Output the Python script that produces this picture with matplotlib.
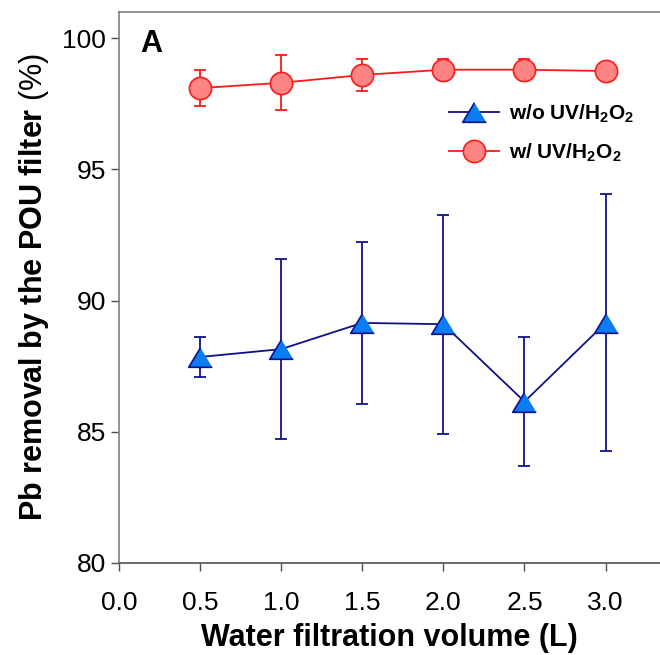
import matplotlib as mpl
mpl.use("Agg")
import matplotlib.pyplot as plt
import numpy as np

# --- Datos ---
volume = [0.5, 1.0, 1.5, 2.0, 2.5, 3.0]

wo_uv = [87.85, 88.15, 89.15, 89.1, 86.15, 89.15]
wo_uv_err = [0.76, 3.43, 3.1, 4.17, 2.46, 4.9]

w_uv = [98.1, 98.3, 98.6, 98.8, 98.8, 98.75]
w_uv_err = [0.7, 1.05, 0.6, 0.4, 0.4, 0.05]

mpl.rcParams.update({
    "font.family": "Liberation Sans",
    "mathtext.fontset": "custom",
    "mathtext.rm": "Liberation Sans",
    "mathtext.bf": "Liberation Sans:bold",
})

fig = plt.figure(figsize=(6.6, 6.55), dpi=100)
ax = fig.add_axes([0.180, 0.1405, 0.82, 0.8412])

navy = "#10108a"
red = "#ff1a1a"

# Barras de error (detrás de los marcadores)
ax.errorbar(volume, wo_uv, yerr=wo_uv_err, fmt="none", ecolor=navy,
            elinewidth=1.3, capsize=4, capthick=1.3, zorder=2)
ax.errorbar(volume, w_uv, yerr=w_uv_err, fmt="none", ecolor=red,
            elinewidth=1.3, capsize=4, capthick=1.3, zorder=2)

tri = [(0, 0.83), (-1, -0.83), (1, -0.83)]
ax.plot(volume, wo_uv, color=navy, linewidth=1.3, marker=tri, markersize=17,
        markerfacecolor="#0a7df5", markeredgecolor=navy, markeredgewidth=1.2,
        label=r"w/o UV/H$_\mathbf{2}$O$_\mathbf{2}$", zorder=3)
ax.plot(volume, w_uv, color=red, linewidth=1.3, marker="o", markersize=16,
        markerfacecolor="#ff8585", markeredgecolor=red, markeredgewidth=1.2,
        label=r"w/ UV/H$_\mathbf{2}$O$_\mathbf{2}$", zorder=3)

ax.set_xlim(0, 3.335)
ax.set_ylim(80, 101)
ax.set_xticks(np.arange(0, 3.01, 0.5))
ax.set_xticklabels([f"{v:.1f}" for v in np.arange(0, 3.01, 0.5)])
ax.set_yticks([80, 85, 90, 95, 100])

for s in ["left", "top", "bottom"]:
    ax.spines[s].set_color("#808080")
    ax.spines[s].set_linewidth(1.2)
ax.spines["bottom"].set_color("#505050")
ax.spines["right"].set_visible(False)

ax.tick_params(axis="both", direction="out", length=6, width=1,
               color="#505050", labelsize=19)
ax.tick_params(axis="x", pad=14)
ax.tick_params(axis="y", pad=3)

ax.set_xlabel("Water filtration volume (L)", fontsize=22, fontweight="bold", labelpad=6)
ax.set_ylabel(r"Pb removal by the POU filter $\mathrm{(\%)}$", fontsize=22,
              fontweight="bold", labelpad=8)

ax.text(0.04, 0.97, "A", transform=ax.transAxes, fontsize=22,
        fontweight="bold", va="top", ha="left")

ax.legend(loc="upper left", bbox_to_anchor=(0.61, 0.836), frameon=False,
          prop={"weight": "bold", "size": 15}, handlelength=2.4,
          handletextpad=0.5, labelspacing=0.8, borderpad=0, borderaxespad=0)

fig.savefig("out.png", dpi=100)
plt.close(fig)
